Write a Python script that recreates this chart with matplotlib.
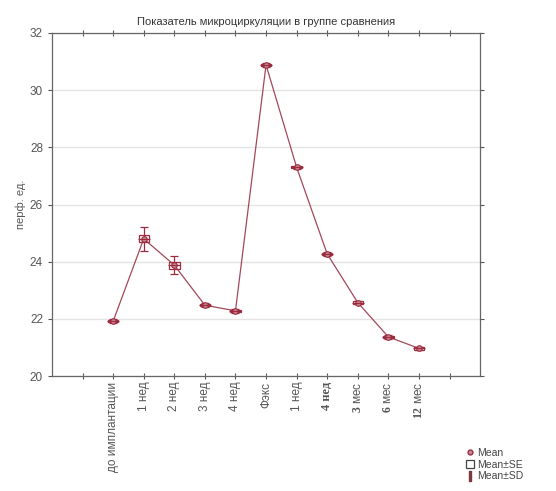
import matplotlib.pyplot as plt
from matplotlib.patches import Rectangle
from matplotlib.lines import Line2D

plt.rcParams['font.family'] = ['Liberation Sans', 'DejaVu Sans']
plt.rcParams['mathtext.fontset'] = 'custom'
plt.rcParams['mathtext.bf'] = 'Liberation Serif:bold'

# Точки наблюдения и значения показателя (перф. ед.)
periods = ['до имплантации', '1 нед', '2 нед', '3 нед', '4 нед', 'Фэкс',
           '1 нед', '4 нед', r'$\mathbf{3}$ мес', r'$\mathbf{6}$ мес', r'$\mathbf{12}$ мес']
mean = [21.92, 24.8, 23.88, 22.48, 22.28, 30.88, 27.3, 24.27, 22.57, 21.37, 20.97]
se = [0.04, 0.12, 0.12, 0.04, 0.04, 0.04, 0.04, 0.04, 0.04, 0.04, 0.04]
sd = [0.06, 0.42, 0.32, 0.06, 0.06, 0.06, 0.06, 0.07, 0.06, 0.06, 0.06]

line_color = '#a3485a'
mark_color = '#9b2b3e'

fig = plt.figure(figsize=(5.56, 4.91), dpi=100)
ax = fig.add_axes([0.0935, 0.234, 0.77, 0.699])

x = list(range(len(periods)))
ax.plot(x, mean, color=line_color, lw=0.9, zorder=2)

# Бокс ±SE и усы ±SD
for xi, m, s, d in zip(x, mean, se, sd):
    ax.add_patch(Rectangle((xi - 0.17, m - s), 0.34, 2 * s, fill=False,
                           ec=mark_color, lw=0.9, zorder=3))
ax.errorbar(x, mean, yerr=sd, fmt='none', ecolor=mark_color, elinewidth=0.9,
            capsize=3, capthick=0.9, zorder=3)
ax.plot(x, mean, 'o', ms=4, mfc='#c98a95', mec=mark_color, mew=0.8, zorder=4)
ax.plot(x, mean, '_', ms=9, mec=mark_color, mew=0.9, zorder=4)

ax.set_xlim(-2, 12)
ax.set_ylim(20, 32)
ax.set_yticks(range(20, 33, 2))
ax.set_xticks(range(-1, 12))
ax.set_xticklabels([''] + periods + [''], rotation=90, fontsize=8.5, color='#555555')
# вторая "4 нед" выделена жирным шрифтом
lab = ax.get_xticklabels()[8]
lab.set_fontfamily('Liberation Serif')
lab.set_fontweight('bold')
lab.set_fontsize(9)
lab.set_color('#222222')
ax.tick_params(axis='y', labelsize=8.5, colors='#555555', direction='out', length=3, right=True)
ax.tick_params(axis='x', direction='inout', length=4, colors='#555555', top=True, pad=2)
ax.yaxis.grid(True, color='#e4e4e4', lw=1.0)
ax.set_axisbelow(True)
for sp in ax.spines.values():
    sp.set_color('#666666')
    sp.set_linewidth(0.9)

ax.set_title('Показатель микроциркуляции в группе сравнения', fontsize=8,
             color='#333333', pad=6)
ax.set_ylabel('перф. ед.', fontsize=8, color='#555555', labelpad=3)

handles = [
    Line2D([], [], marker='o', ls='none', ms=3.5, mfc='#c98a95', mec=mark_color),
    Rectangle((0, 0), 1, 1, fill=False, ec='#444444', lw=0.9),
    Line2D([], [], marker=r'$\mathrm{I}$', ls='none', ms=7, color='#7a3a40'),
]
fig.legend(handles, ['Mean', 'Mean±SE', 'Mean±SD'], loc='lower left',
           bbox_to_anchor=(0.825, 0.005), frameon=False, fontsize=7.5,
           labelcolor='#444444', handlelength=0.8, handletextpad=0.3,
           labelspacing=0.15, borderpad=0.2)

fig.savefig('out.png', dpi=100, facecolor='white')
